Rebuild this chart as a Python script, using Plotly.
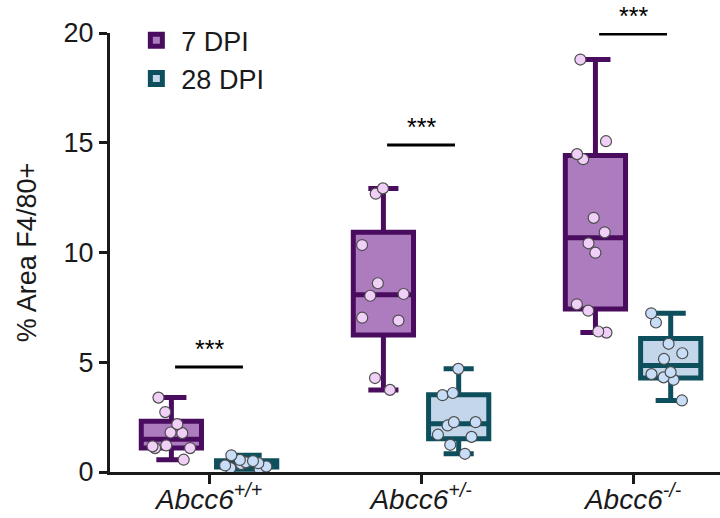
import numpy as np
import plotly.graph_objects as go

# Genotype groups shown on the x axis
genotypes = ["Abcc6+/+", "Abcc6+/-", "Abcc6-/-"]
genotype_labels = ["<i>Abcc6<sup>+/+</sup></i>", "<i>Abcc6<sup>+/-</sup></i>", "<i>Abcc6<sup>-/-</sup></i>"]

# % Area F4/80+ per animal, 7 days post injury
dpi7_wt = [3.39, 2.73, 2.18, 1.80, 1.77, 1.21, 1.09, 1.09, 1.17, 0.56]
dpi7_het = [12.92, 12.68, 10.34, 8.60, 8.11, 8.03, 7.03, 6.90, 4.28, 3.74]
dpi7_ko = [18.79, 15.07, 14.48, 14.25, 11.58, 10.92, 10.42, 9.99, 7.64, 7.35, 6.40, 6.35]

# % Area F4/80+ per animal, 28 days post injury
dpi28_wt = [0.76, 0.55, 0.50, 0.44, 0.40, 0.36, 0.30, 0.25, 0.18, 0.12]
dpi28_het = [4.70, 3.60, 3.50, 2.27, 2.27, 2.12, 1.70, 1.60, 1.24, 0.83]
dpi28_ko = [7.23, 6.81, 5.84, 5.41, 5.15, 4.55, 4.46, 4.31, 4.20, 3.26]

# Significance brackets (7 vs 28 DPI within each genotype)
sig_labels = ["***", "***", "***"]
sig_y = [4.78, 14.9, 19.95]

FONT = "Arial, Liberation Sans, sans-serif"

series = [
    dict(name="7 DPI", groups=[dpi7_wt, dpi7_het, dpi7_ko], og="d7",
         line="#4a0c5e", fill="#ad7cbf", pt="#f0d0f6"),
    dict(name="28 DPI", groups=[dpi28_wt, dpi28_het, dpi28_ko], og="d28",
         line="#0e4f5e", fill="#c4d6ea", pt="#c8ddf7"),
]


def box_stats(values):
    # Quartiles with the (n+1)p rule, whiskers from min to max
    v = np.asarray(values, dtype=float)
    q1, med, q3 = np.percentile(v, [25, 50, 75], method="weibull")
    return q1, med, q3, v.min(), v.max()


fig = go.Figure()

for s in series:
    stats = [box_stats(g) for g in s["groups"]]
    fig.add_trace(go.Box(
        name=s["name"],
        x=genotypes,
        q1=[st[0] for st in stats],
        median=[st[1] for st in stats],
        q3=[st[2] for st in stats],
        lowerfence=[st[3] for st in stats],
        upperfence=[st[4] for st in stats],
        offsetgroup=s["og"],
        boxpoints=False,
        whiskerwidth=0.5,
        fillcolor=s["fill"],
        line=dict(color=s["line"], width=5),
        hoverinfo="skip",
    ))

for s in series:
    xs, ys = [], []
    for g, vals in zip(genotypes, s["groups"]):
        xs += [g] * len(vals)
        ys += list(vals)
    fig.add_trace(go.Box(
        name=s["name"],
        x=xs,
        y=ys,
        offsetgroup=s["og"],
        boxpoints="all",
        jitter=0.85,
        pointpos=0,
        fillcolor="rgba(0,0,0,0)",
        line=dict(color="rgba(0,0,0,0)", width=0),
        marker=dict(size=11, color=s["pt"], line=dict(color="#4d4d4d", width=1.2)),
        showlegend=False,
        hoveron="points",
    ))

for i, (lab, yv) in enumerate(zip(sig_labels, sig_y)):
    fig.add_shape(type="line", xref="x", yref="y", x0=i - 0.16, x1=i + 0.16,
                  y0=yv, y1=yv, line=dict(color="black", width=3))
    fig.add_annotation(x=i, y=yv, xref="x", yref="y", text=lab, showarrow=False,
                       yanchor="bottom", yshift=2,
                       font=dict(family=FONT, size=25, color="black"))

fig.update_layout(
    width=720, height=518,
    margin=dict(l=110, r=0, t=33, b=46),
    plot_bgcolor="white", paper_bgcolor="white",
    boxmode="group", boxgap=0.29, boxgroupgap=0.2,
    font=dict(family=FONT, size=27, color="#1a1a1a"),
    legend=dict(x=0.035, y=1.038, xanchor="left", yanchor="top", itemwidth=40,
                bgcolor="rgba(0,0,0,0)", font=dict(size=27)),
)

fig.update_xaxes(
    type="category", categoryorder="array", categoryarray=genotypes,
    tickvals=genotypes, ticktext=genotype_labels,
    range=[-0.467, 2.41],
    showline=True, linewidth=3, linecolor="#1a1a1a",
    ticks="outside", ticklen=9, tickwidth=3, tickcolor="#1a1a1a",
    ticklabelstandoff=-9,
    showgrid=False, zeroline=False,
    tickfont=dict(size=28),
)

fig.update_yaxes(
    range=[0, 20], tickvals=[0, 5, 10, 15, 20],
    showline=True, linewidth=3, linecolor="#1a1a1a",
    ticks="outside", ticklen=8, tickwidth=3, tickcolor="#1a1a1a",
    showgrid=False, zeroline=False,
    tickfont=dict(size=27),
    title=dict(text="% Area F4/80+", font=dict(size=27), standoff=20),
)

fig.write_html("out.html")
